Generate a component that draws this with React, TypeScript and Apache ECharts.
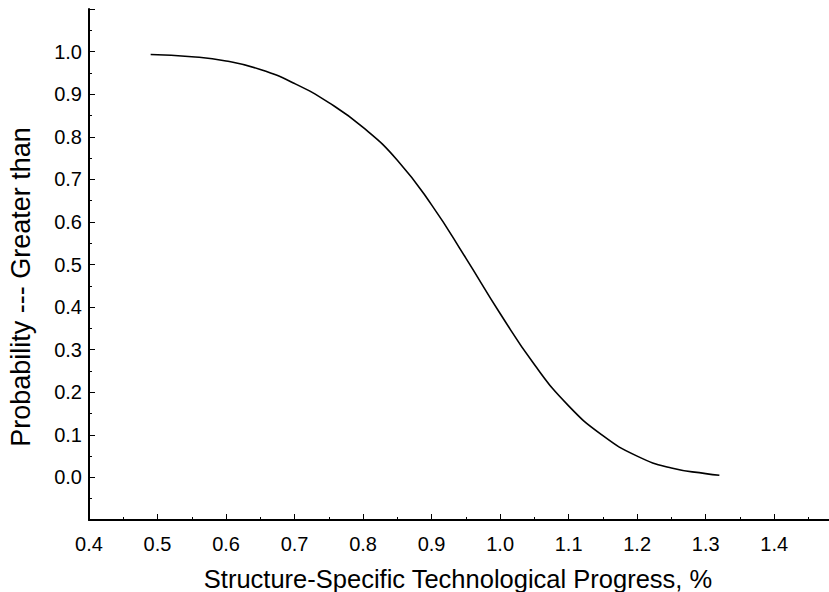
import React, { useEffect, useRef } from "react";
import * as echarts from "echarts";

const xValues = [0.49, 0.55, 0.6, 0.65, 0.7, 0.75, 0.8, 0.85, 0.9, 0.95, 1.0, 1.05, 1.1, 1.15, 1.2, 1.25, 1.3, 1.32];
const probValues = [0.993, 0.988, 0.978, 0.958, 0.925, 0.88, 0.822, 0.745, 0.64, 0.515, 0.385, 0.265, 0.168, 0.098, 0.05, 0.022, 0.009, 0.005];
const xTitle = "Structure-Specific Technological Progress, %";
const yTitle = "Probability --- Greater than";

export default function App() {
  const ref = useRef<HTMLDivElement>(null);
  useEffect(() => {
    if (!ref.current) return;
    const chart = echarts.init(ref.current, undefined, { renderer: "svg" });
    const font = "Liberation Sans, Arial, sans-serif";
    chart.setOption({
      animation: false,
      backgroundColor: "#ffffff",
      grid: { left: 89, right: 0, top: 9, bottom: 72 },
      xAxis: {
        type: "value",
        min: 0.4,
        max: 1.48,
        interval: 0.1,
        splitLine: { show: false },
        axisLine: { show: true, onZero: false, lineStyle: { color: "#000", width: 2 } },
        axisTick: { show: true, inside: true, length: 6, lineStyle: { color: "#000", width: 1 } },
        minorTick: { show: true, splitNumber: 2, length: 3, lineStyle: { color: "#000", width: 1 } },
        axisLabel: {
          color: "#000",
          fontFamily: font,
          fontSize: 20,
          margin: 14,
          showMaxLabel: false,
          formatter: (v: number) => (v > 1.45 ? "" : v.toFixed(1)),
        },
      },
      yAxis: {
        type: "value",
        min: -0.1,
        max: 1.1,
        interval: 0.1,
        splitLine: { show: false },
        axisLine: { show: true, onZero: false, lineStyle: { color: "#000", width: 2 } },
        axisTick: { show: true, inside: true, length: 6, lineStyle: { color: "#000", width: 1 } },
        minorTick: { show: true, splitNumber: 2, length: 3, lineStyle: { color: "#000", width: 1 } },
        axisLabel: {
          color: "#000",
          fontFamily: font,
          fontSize: 20,
          margin: 7,
          formatter: (v: number) => (v < -0.05 || v > 1.05 ? "" : v.toFixed(1)),
        },
      },
      graphic: [
        {
          type: "text",
          x: 458,
          y: 579,
          style: {
            text: xTitle,
            fontFamily: font,
            fontSize: 25.5,
            fill: "#000",
            align: "center",
            verticalAlign: "middle",
          },
        },
        {
          type: "text",
          x: 21,
          y: 287,
          rotation: Math.PI / 2,
          style: {
            text: yTitle,
            fontFamily: font,
            fontSize: 27,
            fill: "#000",
            align: "center",
            verticalAlign: "middle",
          },
        },
      ],
      series: [
        {
          type: "line",
          data: xValues.map((x, i) => [x, probValues[i]]),
          smooth: 0.5,
          showSymbol: false,
          lineStyle: { color: "#000", width: 1.6 },
        },
      ],
    });
    return () => chart.dispose();
  }, []);
  return (
    <div
      ref={ref}
      style={{ position: "absolute", left: 0, top: 0, width: 829, height: 592 }}
    />
  );
}
